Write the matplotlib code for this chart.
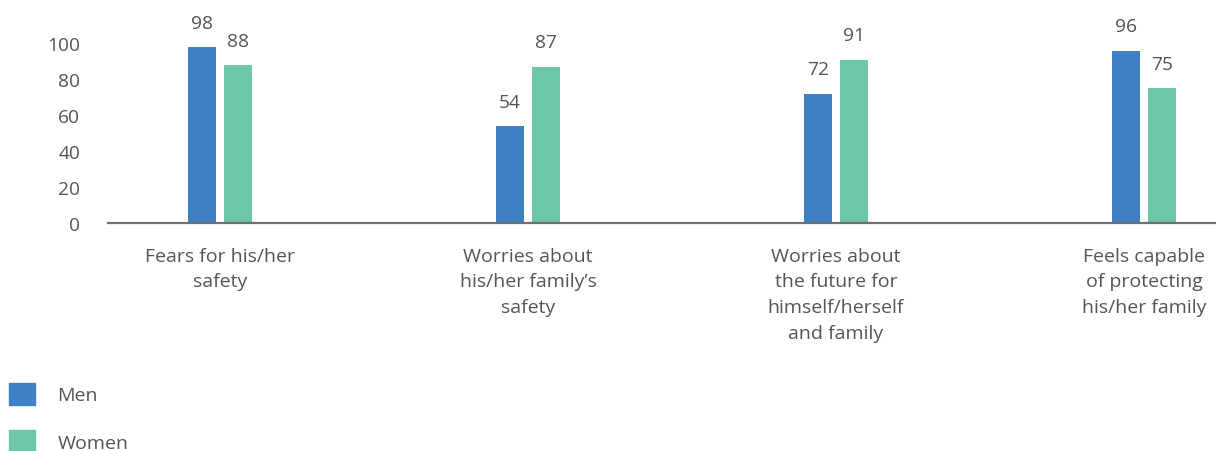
import matplotlib.pyplot as plt
from matplotlib.patches import Patch
import numpy as np

categories = ["Fears for his/her\nsafety",
              "Worries about\nhis/her family\u2019s\nsafety",
              "Worries about\nthe future for\nhimself/herself\nand family",
              "Feels capable\nof protecting\nhis/her family"]
men = [98, 54, 72, 96]
women = [88, 87, 91, 75]
series_names = ["Men", "Women"]
yticks = [0, 20, 40, 60, 80, 100]

blue = "#3E82C5"
green = "#6DC6A9"
txt = "#555555"

plt.rcParams['font.family'] = ['Open Sans', 'DejaVu Sans']

fig = plt.figure(figsize=(12.16, 4.52), dpi=100)
ax = fig.add_axes([108 / 1216, 1 - 224 / 452, 1108 / 1216, 179.6 / 452])

x = np.arange(len(categories))
w = 0.091
off = 0.0584
b1 = ax.bar(x - off, men, w, color=blue)
b2 = ax.bar(x + off, women, w, color=green)

for bars, vals in ((b1, men), (b2, women)):
    for b, v in zip(bars, vals):
        ax.annotate(str(v), (b.get_x() + b.get_width() / 2, v), xytext=(0, 11),
                    textcoords="offset points", ha="center", va="bottom",
                    fontsize=13.8, color=txt, annotation_clip=False)

ax.set_xlim(-0.364, 3.234)
ax.set_ylim(0, 100)
ax.set_yticks(yticks)
ax.set_xticks(x)
ax.set_xticklabels(categories, fontsize=14, color=txt, linespacing=1.55, va="top")
ax.tick_params(axis="y", length=0, pad=20, labelsize=13.8, labelcolor=txt)
ax.tick_params(axis="x", length=0, pad=17)
for s in ("top", "right", "left"):
    ax.spines[s].set_visible(False)
ax.spines["bottom"].set_color("#6f6f6f")
ax.spines["bottom"].set_linewidth(1.6)

handles = [Patch(color=blue), Patch(color=green)]
leg = fig.legend(handles, series_names, loc="upper left", bbox_to_anchor=(9 / 1216, 1 - 384 / 452),
                 frameon=False, fontsize=14, handlelength=1.35, handleheight=1.35,
                 handletextpad=1.15, labelspacing=1.3, borderpad=0, borderaxespad=0)
for t in leg.get_texts():
    t.set_color(txt)

fig.savefig("out.png", dpi=100)
